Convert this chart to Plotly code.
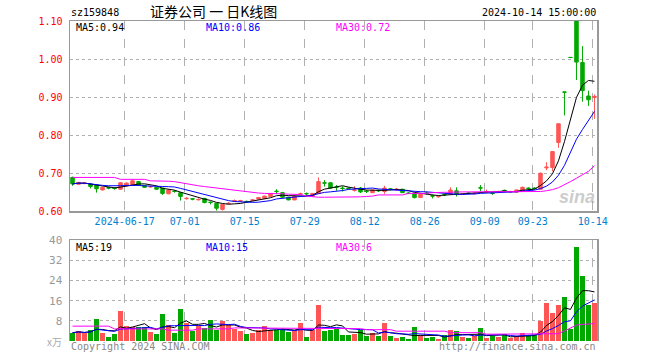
import pandas as pd
import plotly.graph_objects as go

# ---------------- data ----------------
holidays = ["2024-06-10", "2024-09-16", "2024-09-17", "2024-10-01", "2024-10-02",
            "2024-10-03", "2024-10-04", "2024-10-07"]
dates = [d.strftime("%Y-%m-%d") for d in pd.bdate_range("2024-06-03", "2024-10-14")
         if d.strftime("%Y-%m-%d") not in holidays]

open_ = [0.689, 0.671, 0.673, 0.672, 0.669, 0.656, 0.662, 0.661, 0.658, 0.667,
         0.669, 0.678, 0.668, 0.664, 0.663, 0.661, 0.646, 0.653, 0.649, 0.633,
         0.633, 0.630, 0.634, 0.624, 0.621, 0.605, 0.620, 0.627, 0.627, 0.626,
         0.629, 0.632, 0.634, 0.639, 0.653, 0.649, 0.637, 0.630, 0.645, 0.647,
         0.639, 0.647, 0.675, 0.675, 0.664, 0.661, 0.661, 0.655, 0.661, 0.653,
         0.649, 0.655, 0.652, 0.659, 0.657, 0.658, 0.648, 0.647, 0.636, 0.648,
         0.641, 0.638, 0.644, 0.646, 0.654, 0.644, 0.648, 0.646, 0.662, 0.651,
         0.648, 0.651, 0.655, 0.651, 0.650, 0.654, 0.661, 0.661, 0.658, 0.714,
         0.715, 0.781, 0.9135, 1.0045, 1.100, 0.991, 0.903, 0.899]
high = [0.691, 0.677, 0.675, 0.673, 0.670, 0.664, 0.664, 0.663, 0.677, 0.676,
        0.684, 0.679, 0.669, 0.667, 0.664, 0.662, 0.657, 0.656, 0.650, 0.637,
        0.635, 0.634, 0.635, 0.626, 0.622, 0.619, 0.624, 0.631, 0.630, 0.628,
        0.632, 0.637, 0.641, 0.648, 0.658, 0.651, 0.638, 0.641, 0.649, 0.649,
        0.648, 0.689, 0.682, 0.676, 0.669, 0.666, 0.663, 0.666, 0.664, 0.656,
        0.657, 0.657, 0.667, 0.661, 0.661, 0.659, 0.650, 0.648, 0.646, 0.652,
        0.644, 0.641, 0.646, 0.663, 0.663, 0.647, 0.650, 0.650, 0.669, 0.657,
        0.650, 0.654, 0.657, 0.654, 0.657, 0.665, 0.663, 0.663, 0.702, 0.729,
        0.757, 0.830, 0.914, 1.0045, 1.105, 1.034, 0.917, 0.907]
low = [0.667, 0.670, 0.671, 0.660, 0.649, 0.655, 0.658, 0.657, 0.656, 0.665,
       0.668, 0.667, 0.662, 0.662, 0.656, 0.643, 0.645, 0.649, 0.628, 0.631,
       0.629, 0.629, 0.621, 0.618, 0.602, 0.602, 0.618, 0.625, 0.625, 0.622,
       0.627, 0.631, 0.633, 0.638, 0.645, 0.636, 0.629, 0.629, 0.643, 0.642,
       0.638, 0.646, 0.665, 0.659, 0.654, 0.652, 0.657, 0.652, 0.648, 0.648,
       0.648, 0.651, 0.646, 0.655, 0.655, 0.648, 0.645, 0.634, 0.635, 0.644,
       0.634, 0.636, 0.640, 0.645, 0.639, 0.643, 0.645, 0.645, 0.653, 0.648,
       0.643, 0.649, 0.651, 0.649, 0.649, 0.653, 0.657, 0.657, 0.657, 0.708,
       0.705, 0.767, 0.852, 1.004, 0.945, 0.888, 0.877, 0.843]
close = [0.672, 0.676, 0.674, 0.665, 0.659, 0.663, 0.661, 0.660, 0.675, 0.674,
         0.680, 0.669, 0.663, 0.665, 0.658, 0.647, 0.656, 0.652, 0.639, 0.634,
         0.632, 0.631, 0.623, 0.623, 0.608, 0.618, 0.621, 0.628, 0.628, 0.625,
         0.630, 0.636, 0.640, 0.647, 0.652, 0.637, 0.630, 0.640, 0.646, 0.646,
         0.647, 0.678, 0.674, 0.661, 0.663, 0.660, 0.660, 0.656, 0.651, 0.652,
         0.656, 0.654, 0.661, 0.658, 0.658, 0.649, 0.647, 0.636, 0.645, 0.647,
         0.640, 0.639, 0.643, 0.656, 0.646, 0.645, 0.647, 0.647, 0.661, 0.652,
         0.647, 0.652, 0.654, 0.652, 0.656, 0.663, 0.660, 0.660, 0.700, 0.716,
         0.757, 0.830, 0.913, 1.004, 0.992, 0.917, 0.893, 0.902]
volume = [3.3, 3.9, 3.0, 4.3, 8.7, 3.0, 1.6, 2.8, 11.9, 6.0,
          5.5, 5.5, 5.5, 3.5, 2.7, 10.7, 6.3, 3.2, 12.7, 7.0,
          3.9, 6.3, 5.0, 8.3, 4.3, 8.0, 6.5, 4.7, 3.9, 2.7,
          3.2, 4.3, 6.0, 4.3, 4.5, 4.7, 3.6, 4.5, 7.0, 1.6,
          4.3, 14.4, 3.9, 4.3, 5.1, 2.3, 2.3, 2.7, 4.3, 1.9,
          3.3, 1.9, 7.3, 1.9, 1.1, 1.5, 0.7, 5.5, 2.3, 1.1,
          1.5, 0.7, 2.3, 4.3, 3.9, 1.5, 1.1, 1.9, 5.1, 1.1,
          1.9, 1.5, 2.7, 1.1, 1.9, 3.1, 2.3, 2.3, 7.9, 15.1,
          11.1, 14.3, 17.5, 4.7, 37.5, 25.9, 14.3, 15.1]
ma30_price = [0.689, 0.689, 0.689, 0.689, 0.689, 0.689, 0.689, 0.689, 0.684, 0.684,
              0.684, 0.684, 0.684, 0.680, 0.680, 0.679, 0.679, 0.678, 0.675, 0.672,
              0.669, 0.667, 0.665, 0.663, 0.661, 0.659, 0.657, 0.656, 0.654, 0.652,
              0.650, 0.648, 0.647, 0.647, 0.646, 0.646, 0.645, 0.645, 0.644, 0.640,
              0.638, 0.637, 0.637, 0.637, 0.637, 0.638, 0.638, 0.638, 0.638, 0.639,
              0.640, 0.643, 0.643, 0.643, 0.643, 0.643, 0.647, 0.647, 0.647, 0.647,
              0.649, 0.650, 0.650, 0.650, 0.651, 0.651, 0.651, 0.651, 0.651, 0.651,
              0.651, 0.651, 0.651, 0.651, 0.651, 0.651, 0.651, 0.651, 0.652, 0.654,
              0.657, 0.662, 0.669, 0.678, 0.687, 0.696, 0.705, 0.720]
ma30_vol = [5.9, 5.9, 5.9, 5.9, 5.9, 5.9, 5.9, 4.8, 4.8, 4.8,
            4.8, 4.8, 4.8, 4.8, 4.8, 4.8, 4.3, 4.3, 4.3, 4.3,
            4.3, 4.8, 4.8, 4.8, 4.8, 4.8, 4.8, 5.2, 5.2, 5.2,
            5.2, 5.2, 5.2, 5.2, 5.2, 5.2, 5.2, 5.2, 5.2, 5.2,
            5.2, 5.2, 5.2, 4.9, 4.9, 4.9, 4.9, 4.9, 4.9, 4.5,
            4.5, 4.5, 4.5, 4.5, 3.9, 3.9, 3.9, 3.9, 3.9, 3.9,
            3.9, 3.9, 3.9, 3.3, 3.3, 3.3, 3.3, 3.3, 3.3, 2.7,
            2.7, 2.7, 2.7, 2.7, 2.7, 2.7, 2.7, 2.7, 2.9, 2.9,
            2.9, 2.9, 4.0, 5.0, 6.3, 6.6, 6.9, 6.9]

tick_dates = ["2024-06-17", "2024-07-01", "2024-07-15", "2024-07-29", "2024-08-12",
              "2024-08-26", "2024-09-09", "2024-09-23", "2024-10-14"]
tick_labels = ["2024-06-17", "07-01", "07-15", "07-29", "08-12", "08-26", "09-09",
               "09-23", "10-14"]
price_ticks = [0.60, 0.70, 0.80, 0.90, 1.00, 1.10]
vol_ticks = [8, 16, 24, 32, 40]

# ---------------- derived ----------------
x = list(range(len(dates)))
ma5 = pd.Series(close).rolling(5, min_periods=1).mean()
ma10 = pd.Series(close).rolling(10, min_periods=1).mean()
vma5 = pd.Series(volume).rolling(5, min_periods=1).mean()
vma10 = pd.Series(volume).rolling(10, min_periods=1).mean()

RED = "#ff5555"
GREEN = "#00a800"
BLUE = "#0000ff"
MAG = "#ff00ff"
GRID = "#b0b0b0"
BORDER = "#999999"
MONO = "DejaVu Sans Mono"

vol_colors = [RED if c > o else GREEN for o, c in zip(open_, close)]
tickpos = [dates.index(d) - 0.3 for d in tick_dates]

fig = go.Figure()
fig.add_trace(go.Candlestick(
    x=x, open=open_, high=high, low=low, close=close,
    increasing=dict(line=dict(color=RED, width=1), fillcolor=RED),
    decreasing=dict(line=dict(color=GREEN, width=1), fillcolor=GREEN),
    whiskerwidth=0, hoverinfo="skip", showlegend=False, xaxis="x", yaxis="y"))
for ys, col in [(ma5, "black"), (ma10, BLUE), (ma30_price, MAG)]:
    fig.add_trace(go.Scatter(x=x, y=list(ys), mode="lines", line=dict(color=col, width=1),
                             hoverinfo="skip", showlegend=False, xaxis="x", yaxis="y"))

fig.add_trace(go.Bar(x=x, y=volume, marker=dict(color=vol_colors, line=dict(width=0)),
                     width=0.83, hoverinfo="skip", showlegend=False, xaxis="x2", yaxis="y2"))
for ys, col in [(vma5, "black"), (vma10, BLUE), (ma30_vol, MAG)]:
    fig.add_trace(go.Scatter(x=x, y=list(ys), mode="lines", line=dict(color=col, width=1),
                             hoverinfo="skip", showlegend=False, xaxis="x2", yaxis="y2"))

FW, FH = 660, 360
T, B = 21, 19
L, R = 70, 63
H = FH - T - B
W = FW - L - R


def px(v):
    return (v - L) / W


def py(v):
    return (FH - B - v) / H


price_bottom = py(211.3)
vol_top = py(240.3)

xr = [-0.42, len(x) - 1 + 0.42]
common_x = dict(range=xr, tickvals=tickpos, showgrid=True, gridcolor=GRID, griddash="dash",
                gridwidth=1, zeroline=False, ticks="", fixedrange=True)

fig.update_layout(
    width=FW, height=FH,
    margin=dict(l=L, r=R, t=T, b=B, pad=0),
    paper_bgcolor="white", plot_bgcolor="white",
    showlegend=False, boxgap=0.17, bargap=0, hovermode=False,
    xaxis=dict(**common_x, domain=[0, 1], anchor="y", ticktext=tick_labels,
               tickfont=dict(family=MONO, size=10, color="#0080d0"),
               showline=True, linecolor=BORDER, linewidth=1.5, mirror=True,
               rangeslider=dict(visible=False)),
    yaxis=dict(domain=[price_bottom, 1], range=[0.60, 1.10], tickvals=price_ticks,
               tickformat=".2f", tickfont=dict(family=MONO, size=10, color="#ff0000"),
               showgrid=True, gridcolor=GRID, griddash="dot", zeroline=False, ticks="",
               showline=True, linecolor=BORDER, linewidth=1.5, mirror=True,
               ticklabelstandoff=4, fixedrange=True),
    xaxis2=dict(**common_x, domain=[0, 1], anchor="y2", matches="x", side="top",
                showticklabels=False, showline=True, linecolor=BORDER, linewidth=1.5),
    yaxis2=dict(domain=[0, vol_top], range=[0, 40], tickvals=vol_ticks,
                tickfont=dict(family=MONO, size=11, color="#999999"),
                showgrid=True, gridcolor=GRID, griddash="dot", zeroline=False, ticks="",
                showline=True, linecolor=BORDER, linewidth=1.5, mirror=True,
                ticklabelstandoff=4, fixedrange=True),
)


def note(text, xpix, ypix, color="black", size=10, anchor="left", family=MONO, **kw):
    fig.add_annotation(text=text, x=px(xpix), y=py(ypix), xref="paper", yref="paper",
                       xanchor=anchor, yanchor="middle", showarrow=False,
                       font=dict(family=family, size=size, color=color), **kw)


note("sz159848", 69, 12)
note("证券公司 一 日K线图", 213, 11, size=14, anchor="center", family="Noto Sans CJK SC")
note("2024-10-14 15:00:00", 598, 12, anchor="right")
note("MA5:0.94", 74, 27)
note("MA10:0.86", 204, 27, color=BLUE)
note("MA30:0.72", 334, 27, color=MAG)
note("MA5:19", 74, 247)
note("MA10:15", 204, 247, color=BLUE)
note("MA30:6", 334, 247, color=MAG)
note("Copyright 2024 SINA.COM", 69, 346, color="#888888")
note("http://finance.sina.com.cn", 598, 346, color="#888888", anchor="right")
note("x万", 64, 341, color="#aaaaaa", size=10, anchor="right", family="Noto Sans CJK SC")
note("<b><i>sina</i></b>", 577, 197, color="rgba(160,160,160,0.55)", size=18, anchor="center",
     family="Arial")

fig.write_html("out.html", config={"displayModeBar": False, "staticPlot": True},
               post_script="document.body.style.margin='0px';")
